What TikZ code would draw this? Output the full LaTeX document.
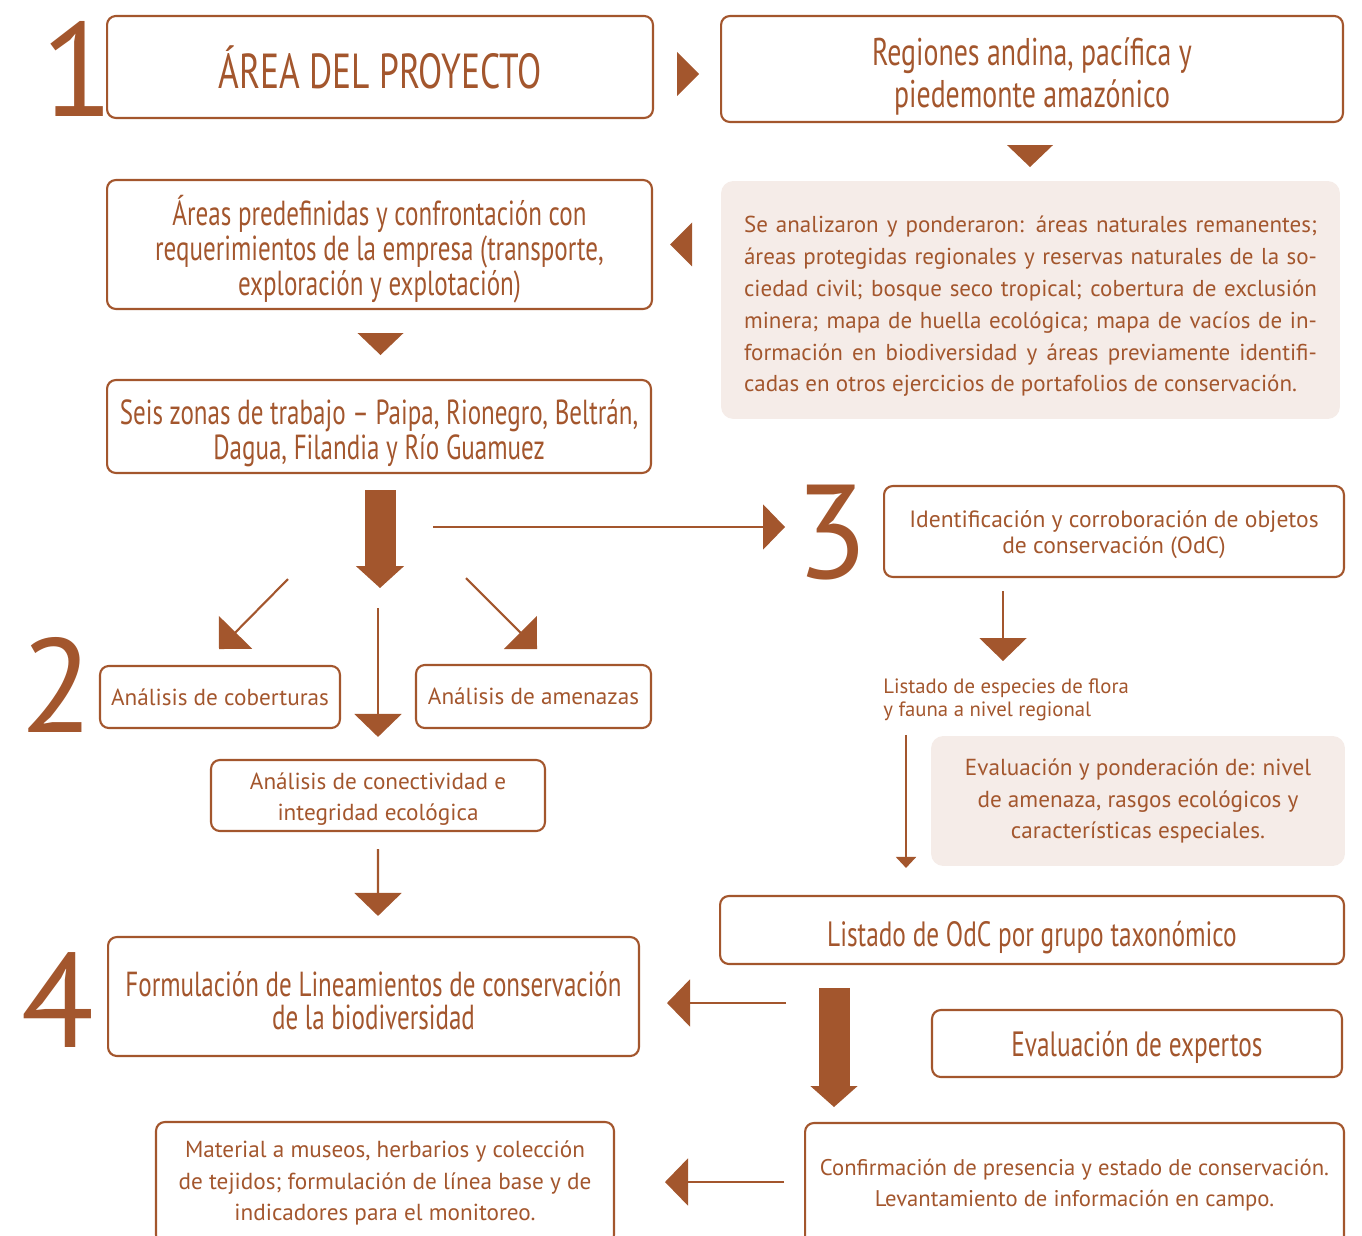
\documentclass[tikz,border=0pt]{standalone}
\usepackage{fontspec}
\setmainfont{PT Sans}
\newfontfamily\headfont[FakeStretch=0.72]{PT Sans}
\usetikzlibrary{positioning, calc, arrows.meta}

\definecolor{brn}{RGB}{163,86,45}
\definecolor{shade}{RGB}{245,236,232}

\newcommand\lift[1]{\rule{0pt}{#1}}

\tikzset{
  triright/.pic={\fill[brn] (-11,-22) -- (11,0) -- (-11,22) -- cycle;},
  trileft/.pic={\fill[brn] (11,-22) -- (-11,0) -- (11,22) -- cycle;},
  tridown/.pic={\fill[brn] (-23,-11) -- (23,-11) -- (0,11) -- cycle;}
}

\begin{document}
\begin{tikzpicture}[x=0.02cm, y=-0.02cm,
  box/.style={draw=brn, line width=1.2pt, rounded corners=5pt, text=brn, align=center, inner sep=0pt},
  shadebox/.style={fill=shade, rounded corners=7pt, text=brn, inner sep=0pt},
  head/.style={font=\headfont\fontsize{19.8}{19.8}\selectfont},
  body/.style={font=\fontsize{13.2}{18.1}\selectfont},
  digit/.style={text=brn, anchor=base, inner sep=0pt, font=\fontsize{76}{76}\selectfont},
  link/.style={draw=brn, line width=1.2pt, -{Triangle[width=0.94cm, length=0.46cm]}},
  bigarrow/.style={draw=brn, line width=0.62cm, -{Triangle[width=0.94cm, length=0.44cm]}}]
  \useasboundingbox (0,0) rectangle (1362,1236);
  \clip (0,0) rectangle (1362,1236);

  % step 1
  \node[digit] (d1) at (78,117) {1};
  \node[box, minimum width=10.92cm, minimum height=2.04cm, font=\headfont\fontsize{28}{30}\selectfont] (A) at (380,67) {ÁREA DEL PROYECTO};
  \node[box, minimum width=12.44cm, minimum height=2.12cm, font=\headfont\fontsize{22}{23.8}\selectfont] (B) at (1032,69) {\lift{24.5pt}Regiones andina, pacífica y\\piedemonte amazónico};
  \node[shadebox, minimum width=12.38cm, minimum height=4.76cm, text width=11.46cm, align=justify, font=\fontsize{13.1}{18.1}\selectfont] (C) at (1030.5,300) {\lift{16.8pt}Se analizaron y ponderaron: áreas naturales remanentes; \linebreak áreas protegidas regionales y reservas naturales de la so-\linebreak ciedad civil; bosque seco tropical; cobertura de exclusión \linebreak minera; mapa de huella ecológica; mapa de vacíos de in-\linebreak formación en biodiversidad y áreas previamente identifi-\linebreak cadas en otros ejercicios de portafolios de conservación.};
  \node[box, minimum width=10.9cm, minimum height=2.58cm, head] (D) at (379.5,244.5) {\lift{22.8pt}Áreas predefinidas y confrontación con\\requerimientos de la empresa (transporte,\\exploración y explotación)};
  \node[box, minimum width=10.88cm, minimum height=1.86cm, head] (E) at (379,426.5) {\lift{21.8pt}Seis zonas de trabajo – Paipa, Rionegro, Beltrán,\\Dagua, Filandia y Río Guamuez};

  \pic at ($(A.east)+(34,7)$) {triright};
  \pic at ($(B.south)+(-2,33)$) {tridown};
  \pic at ($(D.east)+(28,0)$) {trileft};
  \pic at ($(D.south)+(1,34)$) {tridown};
  \draw[bigarrow] ($(E.south)+(1,16)$) -- ($(E.south)+(1,114)$);

  % step 2
  \node[digit] (d2) at (57,732) {2};
  \node[box, minimum width=4.8cm, minimum height=1.24cm, body] (N) at (220,697) {Análisis de coberturas};
  \node[box, minimum width=4.7cm, minimum height=1.26cm, body] (O) at (533.5,696.5) {Análisis de amenazas};
  \node[box, minimum width=6.68cm, minimum height=1.42cm, font=\fontsize{13.2}{17.6}\selectfont] (M) at (378,795.5) {\lift{13.5pt}Análisis de conectividad e\\integridad ecológica};

  \draw[link, -{Triangle[width=0.93cm, length=0.47cm]}] ($(E.south)+(-91,105)$) -- ($(E.south)+(-160,175)$);
  \draw[link, -{Triangle[width=0.93cm, length=0.47cm]}] ($(E.south)+(87,104)$) -- ($(E.south)+(158,175)$);
  \draw[link] ($(E.south)+(-1,134)$) -- ($(M.north)+(0,-22)$);

  % step 3
  \coordinate (h0) at (433,527);
  \coordinate (h1) at (785,527);
  \draw[link, -{Triangle[width=0.9cm, length=0.44cm]}] (h0) -- (h1);
  \node[digit] (d3) at (832,578) {3};
  \node[box, minimum width=9.2cm, minimum height=1.82cm, font=\fontsize{13.4}{14.7}\selectfont] (F) at (1114,531.5) {\lift{13.6pt}Identificación y corroboración de objetos\\de conservación (OdC)};
  \node[anchor=west, align=left, text=brn, inner sep=0pt, font=\fontsize{11.8}{13}\selectfont] (lst) at (883,699.5) {Listado de especies de flora\\y fauna a nivel regional};
  \node[shadebox, minimum width=8.28cm, minimum height=2.6cm, align=center, body] (G) at (1138,801) {Evaluación y ponderación de: nivel\\de amenaza, rasgos ecológicos y\\características especiales.};
  \node[box, minimum width=12.48cm, minimum height=1.36cm, font=\headfont\fontsize{20}{22}\selectfont] (H) at (1032,930) {\lift{23.2pt}Listado de OdC por grupo taxonómico};
  \node[box, minimum width=8.2cm, minimum height=1.34cm, font=\headfont\fontsize{20}{22}\selectfont] (I) at (1137,1043.5) {\lift{19pt}Evaluación de expertos};
  \node[box, minimum width=10.78cm, minimum height=2.48cm, font=\fontsize{12.9}{18.1}\selectfont] (J) at (1074.5,1185) {Confirmación de presencia y estado de conservación.\\Levantamiento de información en campo.};

  \draw[link] ($(F.south)+(-111,13)$) -- ($(F.south)+(-111,83)$);
  \draw[link, -{Triangle[width=0.4cm, length=0.22cm]}] ($(H.north west)+(187,-160)$) -- ($(H.north west)+(187,-27)$);
  \draw[bigarrow, -{Triangle[width=0.92cm, length=0.42cm]}] ($(H.south)+(-198,23)$) -- ($(H.south)+(-198,142)$);

  % step 4
  \node[digit] (d4) at (58,1047) {4};
  \node[box, minimum width=10.62cm, minimum height=2.38cm, font=\headfont\fontsize{19.8}{19.2}\selectfont] (L) at (373.5,996.5) {\lift{19pt}Formulación de Lineamientos de conservación\\de la biodiversidad};
  \node[box, minimum width=9.16cm, minimum height=2.44cm, body] (K) at (385,1183) {Material a museos, herbarios y colección\\de tejidos; formulación de línea base y de\\indicadores para el monitoreo.};

  \draw[link] ($(M.south)+(0,17)$) -- ($(L.north)+(4.5,-20)$);
  \draw[link] ($(L.east)+(146,6.5)$) -- ($(L.east)+(27,6.5)$);
  \draw[link] ($(J.west)+(-20,-3)$) -- ($(J.west)+(-139,-3)$);
\end{tikzpicture}
\end{document}
